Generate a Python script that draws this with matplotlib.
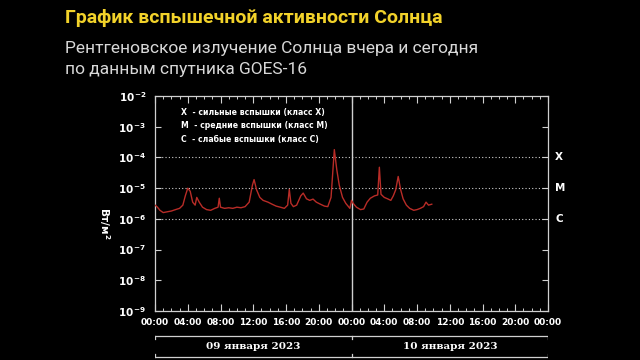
import matplotlib
matplotlib.use("Agg")
import matplotlib.pyplot as plt
import numpy as np

# ---------------------- данные (чтение с картинки) ----------------------
hours = [0.0, 0.3, 0.6, 1.0, 1.5, 2.0, 2.5, 3.0, 3.4, 3.7, 4.0, 4.3, 4.6, 4.9,
         5.1, 5.4, 5.8, 6.3, 6.8, 7.3, 7.7, 7.85, 8.0, 8.5, 9.0, 9.5, 10.0,
         10.5, 11.0, 11.5, 11.9, 12.1, 12.4, 12.8, 13.2, 13.8, 14.3, 14.8,
         15.3, 15.8, 16.2, 16.4, 16.6, 16.9, 17.3, 17.8, 18.1, 18.5, 18.9,
         19.3, 19.7, 20.2, 20.7, 21.1, 21.5, 21.9, 22.2, 22.5, 22.9, 23.3,
         23.8, 24.0, 24.2, 24.6, 25.1, 25.5, 25.9, 26.3, 26.8, 27.2, 27.4,
         27.6, 28.0, 28.4, 28.8, 29.1, 29.4, 29.7, 30.0, 30.3, 30.7, 31.1,
         31.6, 32.0, 32.4, 32.8, 33.1, 33.4, 33.8]
flux = [2.8e-6, 2.4e-6, 1.9e-6, 1.6e-6, 1.7e-6, 1.8e-6, 2.0e-6, 2.2e-6,
        2.8e-6, 5.6e-6, 1.0e-5, 7.9e-6, 3.5e-6, 2.8e-6,
        5.0e-6, 3.5e-6, 2.4e-6, 2.0e-6, 1.9e-6, 2.2e-6, 2.4e-6, 4.7e-6,
        2.4e-6, 2.2e-6, 2.3e-6, 2.2e-6, 2.4e-6,
        2.3e-6, 2.5e-6, 3.5e-6, 1.26e-5, 1.9e-5, 8.9e-6, 5.0e-6, 4.0e-6,
        3.5e-6, 3.0e-6, 2.6e-6,
        2.4e-6, 2.2e-6, 2.8e-6, 9.1e-6, 3.2e-6, 2.5e-6, 2.8e-6, 5.6e-6,
        6.9e-6, 4.5e-6, 4.0e-6,
        4.4e-6, 3.5e-6, 3.0e-6, 2.6e-6, 2.5e-6, 5.0e-6, 1.8e-4, 4.0e-5,
        1.26e-5, 5.0e-6, 3.2e-6,
        2.2e-6, 4.0e-6, 3.2e-6, 2.4e-6, 2.0e-6, 2.1e-6, 3.5e-6, 4.7e-6,
        5.6e-6, 6.0e-6, 4.8e-5,
        6.3e-6, 5.0e-6, 4.5e-6, 4.0e-6, 5.6e-6, 8.9e-6, 2.4e-5, 8.9e-6,
        4.5e-6, 2.8e-6, 2.2e-6,
        1.9e-6, 2.0e-6, 2.2e-6, 2.5e-6, 3.5e-6, 2.8e-6, 3.0e-6]

time_labels = ["00:00", "04:00", "08:00", "12:00", "16:00", "20:00"] * 2 + ["00:00"]
day_labels = ["09 января 2023", "10 января 2023"]
class_labels = ["X", "M", "C"]
class_levels = [1e-4, 1e-5, 1e-6]
legend_lines = ["X  - сильные вспышки (класс X)",
                "M  - средние вспышки (класс M)",
                "C  - слабые вспышки (класс C)"]

# ---------------------- оформление ----------------------
BG = "black"
FG = "#d0d0d0"
RED = "#b82c27"

fig = plt.figure(figsize=(6.4, 3.6), dpi=100, facecolor=BG)

fig.text(0.102, 0.95, "График вспышечной активности Солнца", color="#f2d22a",
         fontsize=14, fontweight="bold", family=["Roboto", "DejaVu Sans"],
         ha="left", va="center")
fig.text(0.102, 0.866, "Рентгеновское излучение Солнца вчера и сегодня",
         color="#d8d8d8", fontsize=12.5, family=["Roboto", "DejaVu Sans"],
         ha="left", va="center")
fig.text(0.102, 0.806, "по данным спутника GOES-16",
         color="#d8d8d8", fontsize=12.5, family=["Roboto", "DejaVu Sans"],
         ha="left", va="center")

ax = fig.add_axes([0.2422, 0.1361, 0.6141, 0.5972], facecolor=BG)
ax.set_yscale("log")
ax.set_ylim(1e-9, 1e-2)
ax.set_xlim(0, 48)

for s in ax.spines.values():
    s.set_color(FG)
    s.set_linewidth(0.9)

# сетка на уровнях классов
for lev in class_levels:
    ax.axhline(lev, color=FG, lw=0.8, ls=(0, (1, 2)), zorder=1)
ax.axvline(24, color=FG, lw=1.0, zorder=2)

ax.plot(hours, flux, color=RED, lw=1.0, zorder=3)

# оси
ax.set_xticks(np.arange(0, 49, 4))
ax.set_xticks(np.arange(0, 49, 1), minor=True)
ax.set_xticklabels(time_labels)
ax.set_yticks([10.0 ** k for k in range(-9, -1)])
ax.set_yticklabels([r"$\mathbf{10}^{\,\mathbf{%d}}$" % k for k in range(-9, -1)])
ax.yaxis.set_minor_locator(matplotlib.ticker.NullLocator())
ax.tick_params(axis="x", which="major", direction="in", length=5, width=0.8,
               color=FG, top=True, labelcolor="white", labelsize=6.5, pad=5)
ax.tick_params(axis="x", which="minor", direction="in", length=2.5, width=0.7,
               color=FG, top=True)
ax.tick_params(axis="y", which="major", direction="in", length=4, width=0.8,
               color=FG, right=True, labelcolor="white", labelsize=7.5, pad=6)
for lab in ax.get_xticklabels():
    lab.set_fontweight("bold")

ax.set_ylabel("Вт/м$^{\\mathbf{2}}$", color="white", fontsize=7.5, fontweight="bold",
              rotation=270, va="center", ha="center")
ax.yaxis.set_label_coords(-0.128, 0.41)

# подписи классов справа
for lab, lev in zip(class_labels, class_levels):
    ax.text(1.018, lev, lab, transform=ax.get_yaxis_transform(), color="white",
            fontsize=7.5, fontweight="bold", ha="left", va="center")

# легенда
for i, line in enumerate(legend_lines):
    ax.text(0.065, 0.925 - i * 0.063, line, transform=ax.transAxes, color="white",
            fontsize=5.6, fontweight="bold", ha="left", va="center")

# скобки с датами
bx = fig.add_axes([0.2422, 0.0, 0.6141, 0.1361], facecolor="none")
bx.set_xlim(0, 48)
bx.set_ylim(0, 49)
bx.axis("off")
top_y, bot_y = 24, 3
bx.plot([0, 48], [top_y, top_y], color=FG, lw=0.9)
bx.plot([0, 48], [bot_y, bot_y], color=FG, lw=0.9)
for xv in (0, 24, 48):
    bx.plot([xv, xv], [top_y, top_y - 3], color=FG, lw=0.9)
    bx.plot([xv, xv], [bot_y, bot_y + 3], color=FG, lw=0.9)
for i, d in enumerate(day_labels):
    bx.text(12 + 24 * i, (top_y + bot_y) / 2, d, color="white", fontsize=7.5,
            fontweight="bold", family="DejaVu Serif", ha="center", va="center")

fig.savefig("out.png", dpi=100, facecolor=BG)
